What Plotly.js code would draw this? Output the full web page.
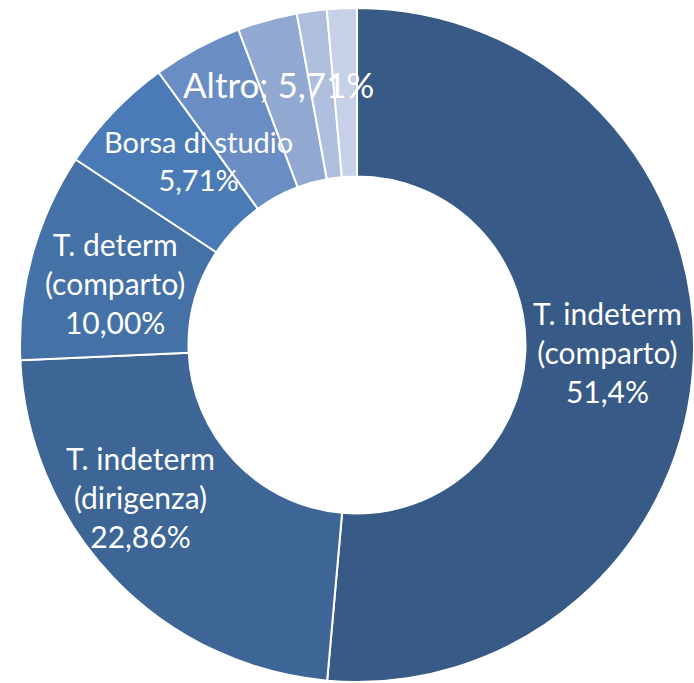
<html lang="it">
  <head>
    <meta charset="UTF-8" />
    <title>Tipologia contratto</title>
    <script src="https://cdn.plot.ly/plotly-3.0.1.min.js"></script>
    <style>
      html, body { margin: 0; padding: 0; background: #fff; }
    </style>
  </head>
  <body>
    <div id="chart" style="width:694px; height:683px;"></div>
    <script>
      // slice data (clockwise from 12 o'clock)
      const categories = ['T. indeterm (comparto)', 'T. indeterm (dirigenza)', 'T. determ (comparto)',
                          'Borsa di studio', 'Altro (a)', 'Altro (b)', 'Altro (c)', 'Altro (d)'];
      const percentages = [51.4, 22.86, 10.00, 5.71, 4.29, 2.86, 1.43, 1.43];
      const sliceColors = ['#375a86', '#3d6596', '#4472a7', '#4a7bb7', '#6a8ec4', '#91a8d0', '#aebedc', '#c6d0e6'];

      // label texts as shown on the chart
      const labelTexts = [
        'T. indeterm<br>(comparto)<br>51,4%',
        'T. indeterm<br>(dirigenza)<br>22,86%',
        'T. determ<br>(comparto)<br>10,00%',
        'Borsa di studio<br>5,71%',
        'Altro; 5,71%'
      ];

      const W = 694, H = 683;
      // label centres in pixels and font sizes
      const labelPos = [[607, 352], [140, 497], [115, 283], [199, 160], [278, 84]];
      const labelSize = [30, 30, 30, 29, 35];

      const annotations = labelTexts.map((t, i) => ({
        text: t,
        x: labelPos[i][0] / W,
        y: 1 - labelPos[i][1] / H,
        xref: 'paper', yref: 'paper',
        xanchor: 'center', yanchor: 'middle',
        showarrow: false,
        align: 'center',
        font: { family: 'Lato, sans-serif', size: labelSize[i], color: '#ffffff' }
      }));

      const cx = 357, cy = 345, r = 337;

      Plotly.newPlot('chart', [{
        type: 'pie',
        labels: categories,
        values: percentages,
        hole: 0.5,
        sort: false,
        direction: 'clockwise',
        rotation: 0,
        textinfo: 'none',
        hoverinfo: 'label+percent',
        marker: { colors: sliceColors, line: { color: '#ffffff', width: 2 } },
        domain: { x: [(cx - r) / W, (cx + r) / W], y: [(H - cy - r) / H, (H - cy + r) / H] },
        showlegend: false
      }], {
        width: W,
        height: H,
        margin: { l: 0, r: 0, t: 0, b: 0 },
        paper_bgcolor: '#ffffff',
        annotations: annotations
      }, { displayModeBar: false });
    </script>
  </body>
</html>
